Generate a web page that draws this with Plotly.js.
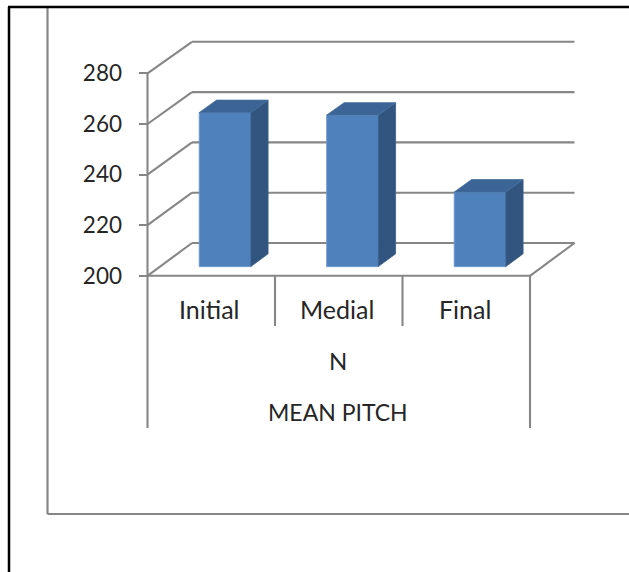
<!DOCTYPE html>
<html>
<head>
<meta charset="utf-8">
<script src="https://cdn.plot.ly/plotly-3.0.0.min.js"></script>
<style>html,body{margin:0;padding:0;background:#fff}#chart{width:629px;height:572px}</style>
</head>
<body>
<div id="chart"></div>
<script>
// Mean pitch of N by word position
const categories = ['Initial', 'Medial', 'Final'];
const meanPitch = [261, 260, 229.5];
const valueTicks = [200, 220, 240, 260, 280];
const groupLabel = 'N';
const measureLabel = 'MEAN PITCH';

// Oblique projection of the box: category units across, pitch units up
const W = 629, H = 572;
const PX_PER_CAT = 127.5, PX_PER_UNIT = 2.53;
const ORIGIN_X = 147.5, ORIGIN_Y = 275.8;
const DEPTH_X = 44.5 / PX_PER_CAT, DEPTH_Y = 32.8 / PX_PER_UNIT;
const BACK_SHRINK = 0.006;
const BAR_WIDTH = 51.5 / PX_PER_CAT, BAR_CENTRE = 0.51;
const BAR_NEAR = 0.28, BAR_FAR = 0.67;
const BASE = 200;

const GREY = '#868686', INK = '#262626';
const FONT = 'Lato, Carlito, sans-serif';

const px = (c, d) => c + d * DEPTH_X;
const py = (v, d) => BASE + (v - BASE) * (1 - BACK_SHRINK * d) + d * DEPTH_Y;

const xRange = [-ORIGIN_X / PX_PER_CAT, (W - ORIGIN_X) / PX_PER_CAT];
const yRange = [BASE - (H - ORIGIN_Y) / PX_PER_UNIT, BASE + ORIGIN_Y / PX_PER_UNIT];
const rowY = pixel => BASE + (ORIGIN_Y - pixel) / PX_PER_UNIT;

const segment = (x0, y0, x1, y1, w) => ({
  type: 'line', xref: 'x', yref: 'y', layer: 'below',
  x0, y0, x1, y1, line: {color: GREY, width: w || 2.1}
});
const paperLine = (x0, y0, x1, y1, color, w) => ({
  type: 'line', xref: 'paper', yref: 'paper', layer: 'below',
  x0: x0 / W, x1: x1 / W, y0: 1 - y0 / H, y1: 1 - y1 / H,
  line: {color, width: w}
});

// Walls and floor
const frameShapes = [];
valueTicks.forEach(v => {
  frameShapes.push(segment(px(0, 0), py(v, 0), px(0, 1), py(v, 1)));
  frameShapes.push(segment(px(0, 1), py(v, 1), px(3, 1), py(v, 1)));
});
frameShapes.push(segment(px(0, 0), py(BASE, 0), px(3, 0), py(BASE, 0)));
frameShapes.push(segment(px(3, 0), py(BASE, 0), px(3, 1), py(BASE, 1)));
frameShapes.push(segment(0, py(280, 0), 0, rowY(428)));
frameShapes.push(segment(3, py(BASE, 0), 3, rowY(428)));
frameShapes.push(segment(1, py(BASE, 0), 1, rowY(326)));
frameShapes.push(segment(2, py(BASE, 0), 2, rowY(326)));

// Outer panel and page rules
frameShapes.push(paperLine(47.5, 7, 47.5, 514, GREY, 2.2));
frameShapes.push(paperLine(47.5, 514, 629, 514, GREY, 2.2));
frameShapes.push(paperLine(8, 7, 629, 7, '#000', 2.5));
frameShapes.push(paperLine(9, 7, 9, 572, '#000', 2.5));

// Bar faces
const centres = categories.map((_, i) => i + BAR_CENTRE);
const faceX = centres.map(c => px(c, BAR_NEAR));

const sideX = [], sideY = [], topX = [], topY = [];
centres.forEach((c, i) => {
  const r = c + BAR_WIDTH / 2, l = c - BAR_WIDTH / 2, v = meanPitch[i];
  sideX.push(px(r, BAR_NEAR), px(r, BAR_FAR), px(r, BAR_FAR), px(r, BAR_NEAR), px(r, BAR_NEAR), null);
  sideY.push(py(BASE, BAR_NEAR), py(BASE, BAR_FAR), py(v, BAR_FAR), py(v, BAR_NEAR), py(BASE, BAR_NEAR), null);
  topX.push(px(l, BAR_NEAR), px(l, BAR_FAR), px(r, BAR_FAR), px(r, BAR_NEAR), px(l, BAR_NEAR), null);
  topY.push(py(v, BAR_NEAR), py(v, BAR_FAR), py(v, BAR_FAR), py(v, BAR_NEAR), py(v, BAR_NEAR), null);
});

const traces = [
  {
    type: 'bar', x: faceX,
    y: meanPitch.map((v, i) => py(v, BAR_NEAR) - py(BASE, BAR_NEAR)),
    base: py(BASE, BAR_NEAR), width: BAR_WIDTH,
    marker: {color: '#4F81BD', line: {color: '#6A97CE', width: 1}},
    hoverinfo: 'skip', showlegend: false
  },
  {
    type: 'scatter', mode: 'lines', x: sideX, y: sideY, fill: 'toself',
    fillcolor: '#32557F', line: {color: '#3A5F8D', width: 0.8},
    hoverinfo: 'skip', showlegend: false
  },
  {
    type: 'scatter', mode: 'lines', x: topX, y: topY, fill: 'toself',
    fillcolor: '#3C6494', line: {color: '#44709F', width: 0.8},
    hoverinfo: 'skip', showlegend: false
  }
];

const axisNote = (text, x, pixelY, size) => ({
  text, x, y: rowY(pixelY), xref: 'x', yref: 'y',
  showarrow: false, xanchor: 'center', yanchor: 'middle',
  font: {family: FONT, size, color: INK}
});
const annotations = categories.map((c, i) => axisNote(c, i + 0.49, 308.5, 25));
annotations.push(axisNote(groupLabel, 1.495, 360.5, 24));
annotations.push(axisNote(measureLabel, 1.495, 411.5, 23));

const layout = {
  width: W, height: H,
  margin: {l: 0, r: 0, t: 0, b: 0, pad: 0},
  paper_bgcolor: '#fff', plot_bgcolor: '#fff',
  showlegend: false, bargap: 0,
  xaxis: {type: 'linear', range: xRange, visible: false, fixedrange: true},
  yaxis: {
    type: 'linear', range: yRange, anchor: 'free', position: ORIGIN_X / W,
    tickmode: 'array', tickvals: valueTicks, ticktext: valueTicks.map(String),
    ticks: 'outside', ticklen: 9, tickwidth: 2, tickcolor: GREY,
    showgrid: false, zeroline: false, showline: false,
    ticklabelstandoff: 12, ticklabelshift: -1.5,
    tickfont: {family: FONT, size: 22.5, color: INK}, fixedrange: true
  },
  shapes: frameShapes,
  annotations
};

Plotly.newPlot('chart', traces, layout, {displayModeBar: false, staticPlot: true});
</script>
</body>
</html>
